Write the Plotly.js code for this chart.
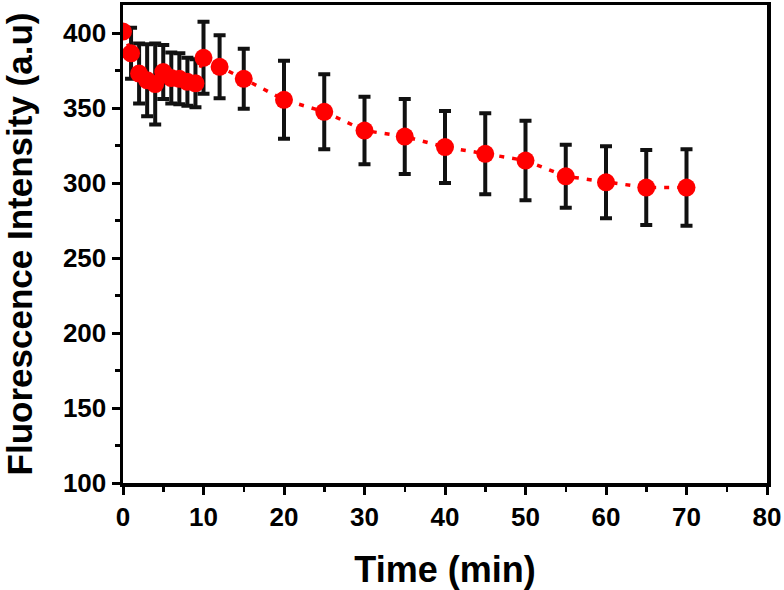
<!DOCTYPE html>
<html>
<head>
<meta charset="utf-8">
<script src="https://cdn.plot.ly/plotly-3.0.1.min.js"></script>
<style>html,body{margin:0;padding:0;background:#fff;}#chart{width:784px;height:590px;}</style>
</head>
<body>
<div id="chart"></div>
<script>
const timeMin = [0, 1, 2, 3, 4, 5, 6, 7, 8, 9, 10, 12, 15, 20, 25, 30, 35, 40, 45, 50, 55, 60, 65, 70];
const intensity = [401, 386.5, 373, 368.5, 366, 374, 370, 369.5, 367.5, 366.5, 383.5, 377.5, 369.5, 355.5, 347.5, 335, 331, 324, 319.5, 315, 304.5, 300.5, 297, 297];
const errorVals = [3, 17, 20, 24, 27, 18, 17, 17, 16, 16, 24, 21, 20, 26, 25, 22.5, 25, 24, 27, 26.5, 21, 24, 25, 25.5];
const xTicks = [0, 10, 20, 30, 40, 50, 60, 70, 80];
const yTicks = [100, 150, 200, 250, 300, 350, 400];

const font = 'Liberation Sans, Arial, sans-serif';

const trace = {
  x: timeMin,
  y: intensity,
  type: 'scatter',
  mode: 'lines+markers',
  line: {color: '#ff0000', width: 3.5, dash: '5px,8px'},
  marker: {color: '#ff0000', size: 18},
  error_y: {type: 'data', array: errorVals, visible: true, color: '#111111', thickness: 4, width: 6},
  cliponaxis: true,
  showlegend: false
};

const layout = {
  width: 784, height: 590,
  margin: {l: 123, r: 17, t: 5, b: 107},
  paper_bgcolor: '#ffffff', plot_bgcolor: '#ffffff',
  font: {family: font, color: '#000'},
  xaxis: {
    range: [0, 80], tickvals: xTicks, ticktext: xTicks.map(v => '<b>' + v + '</b>'),
    showgrid: false, zeroline: false,
    showline: true, mirror: true, linecolor: '#000', linewidth: 3.5,
    ticks: 'outside', ticklen: 8, tickwidth: 3, tickcolor: '#000',
    minor: {dtick: 5, ticks: 'outside', ticklen: 5, tickwidth: 2.5, tickcolor: '#000', showgrid: false},
    tickfont: {family: font, size: 26, color: '#000'},
    title: {text: '<b>Time (min)</b>', font: {family: font, size: 36, color: '#000'}, standoff: 28}
  },
  yaxis: {
    range: [100, 418.7], tickvals: yTicks, ticktext: yTicks.map(v => '<b>' + v + '</b>'),
    showgrid: false, zeroline: false,
    showline: true, mirror: true, linecolor: '#000', linewidth: 3.5,
    ticks: 'outside', ticklen: 8, tickwidth: 3, tickcolor: '#000',
    minor: {dtick: 25, ticks: 'outside', ticklen: 5, tickwidth: 2.5, tickcolor: '#000', showgrid: false},
    tickfont: {family: font, size: 26, color: '#000'},
    title: {text: '<b>Fluorescence Intensity (a.u)</b>', font: {family: font, size: 35, color: '#000'}, standoff: 20}
  }
};

Plotly.newPlot('chart', [trace], layout, {displayModeBar: false, staticPlot: true});
</script>
</body>
</html>
